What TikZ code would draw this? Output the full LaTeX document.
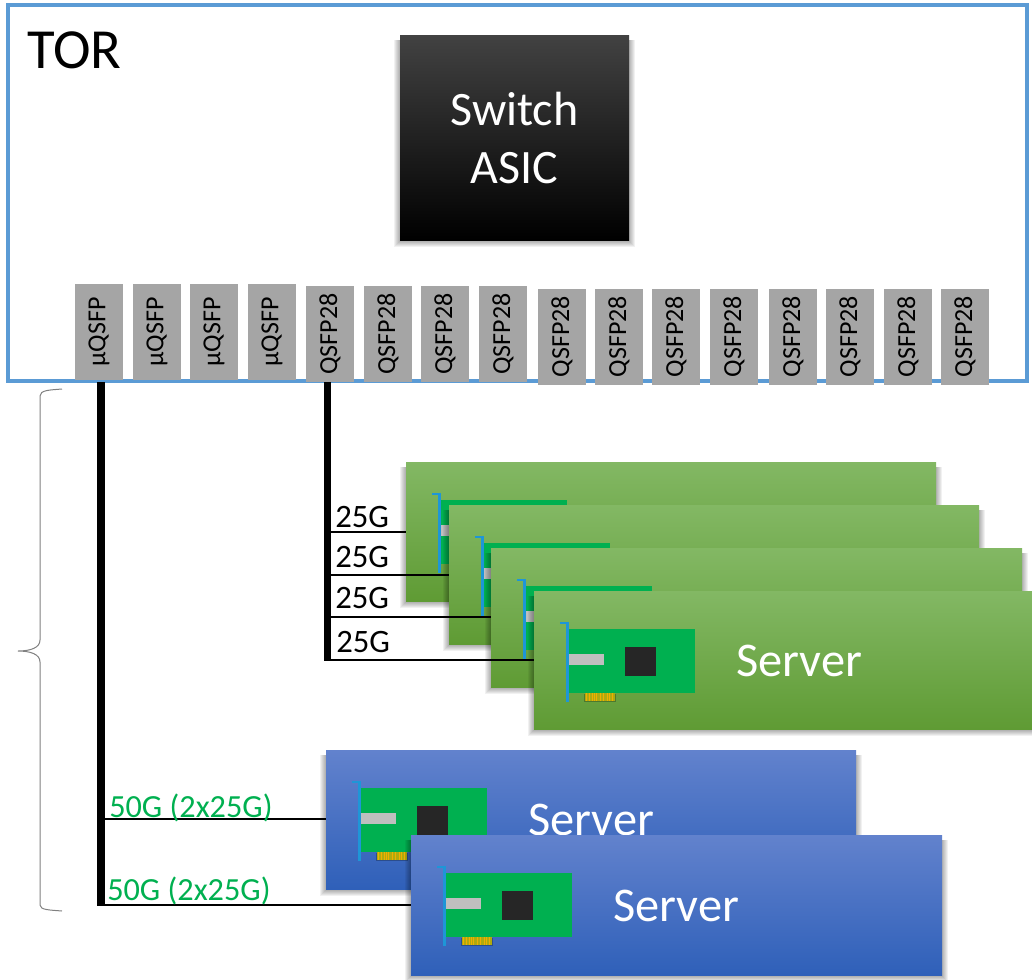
\documentclass[tikz,border=0pt]{standalone}
\usepackage{fontspec}
\setmainfont{Carlito}
\definecolor{torblue}{RGB}{91,155,213}
\definecolor{portgray}{RGB}{165,165,165}
\definecolor{nicgreen}{RGB}{0,176,80}
\definecolor{bracketblue}{RGB}{30,150,215}
\definecolor{lblgreen}{RGB}{0,176,80}
\definecolor{fingerbase}{RGB}{175,170,15}
\definecolor{fingerhot}{RGB}{240,175,0}
\tikzset{
  x=0.75pt,y=-0.75pt,
  torbox/.style={draw=torblue,line width=2.4pt,fill=white},
  port/.style={fill=portgray,inner sep=0pt,outer sep=0pt,minimum width=36pt,minimum height=72pt,font=\fontsize{19.5}{19.5}\selectfont,text=black},
  greencard/.style={inner sep=0pt,outer sep=0pt,anchor=north west,top color={rgb,255:red,131;green,184;blue,100},middle color={rgb,255:red,112;green,173;blue,62},bottom color={rgb,255:red,95;green,155;blue,52}},
  bluecard/.style={inner sep=0pt,outer sep=0pt,anchor=north west,top color={rgb,255:red,98;green,130;blue,205},middle color={rgb,255:red,62;green,108;blue,197},bottom color={rgb,255:red,47;green,96;blue,185}},
  bigbus/.style={line width=6pt,black},
  bus/.style={line width=5.4pt,black},
  wire/.style={line width=1.1pt,black},
  lblk/.style={anchor=base west,inner sep=0pt,font=\fontsize{24.5}{24.5}\selectfont,text=black},
  lgrn/.style={anchor=base west,inner sep=0pt,font=\fontsize{24.2}{24.2}\selectfont,text=lblgreen},
  srv/.style={anchor=base west,inner sep=0pt,font=\fontsize{36.3}{36.3}\selectfont,text=white},
  asic/.style={inner sep=0pt,outer sep=0pt,anchor=north west,minimum width=171.75pt,minimum height=153.75pt,top color={rgb,255:red,66;green,66;blue,66},middle color=black,bottom color=black,text=white,align=center,font=\fontsize{36}{43.5}\selectfont},
}
% soft shadow: x0, y0, x1, y1
\newcommand{\softshadow}[4]{%
  \foreach \d in {6,5,4,3,2,1}{
    \fill[black,opacity=0.055] (#1-\d,#2+5) rectangle (#3+\d,#4+\d+0.5);
  }
}
% #1 name, #2 x, #3 y, #4 w, #5 h, #6 style
\newcommand{\cardbox}[6]{%
  \softshadow{#2}{#3}{#2+#4}{#3+#5}
  \node[#6,minimum width=#4*0.75pt,minimum height=#5*0.75pt] (#1) at (#2,#3) {};
  \begin{scope}[shift={(#2,#3)}]
    \fill[nicgreen] (34,38) rectangle (161,102);
    \fill[black!85] (91,56) rectangle (122,85);
    \fill[black!25] (34,63) rectangle (70,74);
    \fill[black,opacity=0.25] (50,103) rectangle (82,111);
    \fill[fingerbase] (51,102) rectangle (81,110);
    \foreach \s in {52,55,57.5,60,62,66,69,73,75,78}{\fill[fingerhot] (\s,102) rectangle (\s+1,110);}
    \fill[bracketblue] (32,31) rectangle (35,110.5);
    \fill[bracketblue] (25.5,30.5) rectangle (35,33);
  \end{scope}
}
\begin{document}
\begin{tikzpicture}
\useasboundingbox (0,0) rectangle (1032,979);
\clip (0,0) rectangle (1032,979);
\fill[white] (0,0) rectangle (1032,979);
% TOR box
\draw[torbox] (8,5) rectangle (1027,381);
\node[anchor=base west,inner sep=0pt,font=\fontsize{42.5}{42.5}\selectfont] (tor) at (27,68) {TOR};
% ASIC
\softshadow{400}{35}{629}{240}
\node[asic] (sw) at (400,35) {Switch\\ASIC};
% Cards
\cardbox{s1}{406}{462}{530}{139}{greencard}
\cardbox{s2}{449}{505}{530}{139}{greencard}
\cardbox{s3}{491}{548}{531}{139}{greencard}
\cardbox{s4}{534}{591}{530}{138}{greencard}
\node[srv] (t4) at (736,676) {Server};
\cardbox{b1}{326}{750}{530}{139}{bluecard}
\node[srv] (t5) at (528,835) {Server};
\cardbox{b2}{411}{835}{531}{140}{bluecard}
\node[srv] (t6) at (613,921) {Server};
% Ports
\foreach \n/\x in {1/99,2/157,3/214,4/272}{
  \node[port] (p\n) at (\x,332) {\rotatebox{90}{µQSFP}};
}
\foreach \n/\x in {5/330,6/388,7/445,8/503}{
  \node[port] (p\n) at (\x,334) {\rotatebox{90}{QSFP28}};
}
\foreach \n/\x in {9/562,10/619,11/676,12/734,13/793,14/850,15/908,16/965}{
  \node[port] (p\n) at (\x,336.5) {\rotatebox{90}{QSFP28}};
}
% Buses
\coordinate (ua) at (100.5,382);
\coordinate (ub) at (100.5,906);
\coordinate (qa) at (327.5,382);
\coordinate (qb) at (327.5,661);
\draw[bigbus] (ua) -- (ub);
\draw[bus] (qa) -- (qb);
% Wires
\coordinate (w1) at (331,532);
\coordinate (w2) at (331,575);
\coordinate (w3) at (331,617);
\coordinate (w4) at (331,660);
\coordinate (w5) at (104,819);
\coordinate (w6) at (104,905);
\draw[wire] (w1) -- (w1 -| s1.west);
\draw[wire] (w2) -- (w2 -| s2.west);
\draw[wire] (w3) -- (w3 -| s3.west);
\draw[wire] (w4) -- (w4 -| s4.west);
\draw[wire] (w5) -- (w5 -| b1.west);
\draw[wire] (w6) -- (w6 -| b2.west);
% Labels
\node[lblk] (l1) at (335,527) {25G};
\node[lblk] (l2) at (335,567) {25G};
\node[lblk] (l3) at (335,608) {25G};
\node[lblk] (l4) at (336,652) {25G};
\node[lgrn] (l5) at (109,817) {50G (2x25G)};
\node[lgrn] (l6) at (107,900) {50G (2x25G)};
% Brace
\draw[draw=black!50,line width=0.75pt] (62,389) .. controls (50,390) and (40,390) .. (40,396) -- (40,640) .. controls (40,648) and (30,651) .. (18,651) .. controls (30,651) and (40,654) .. (40,662) -- (40,905) .. controls (40,910) and (50,910) .. (62,911);
\end{tikzpicture}
\end{document}
